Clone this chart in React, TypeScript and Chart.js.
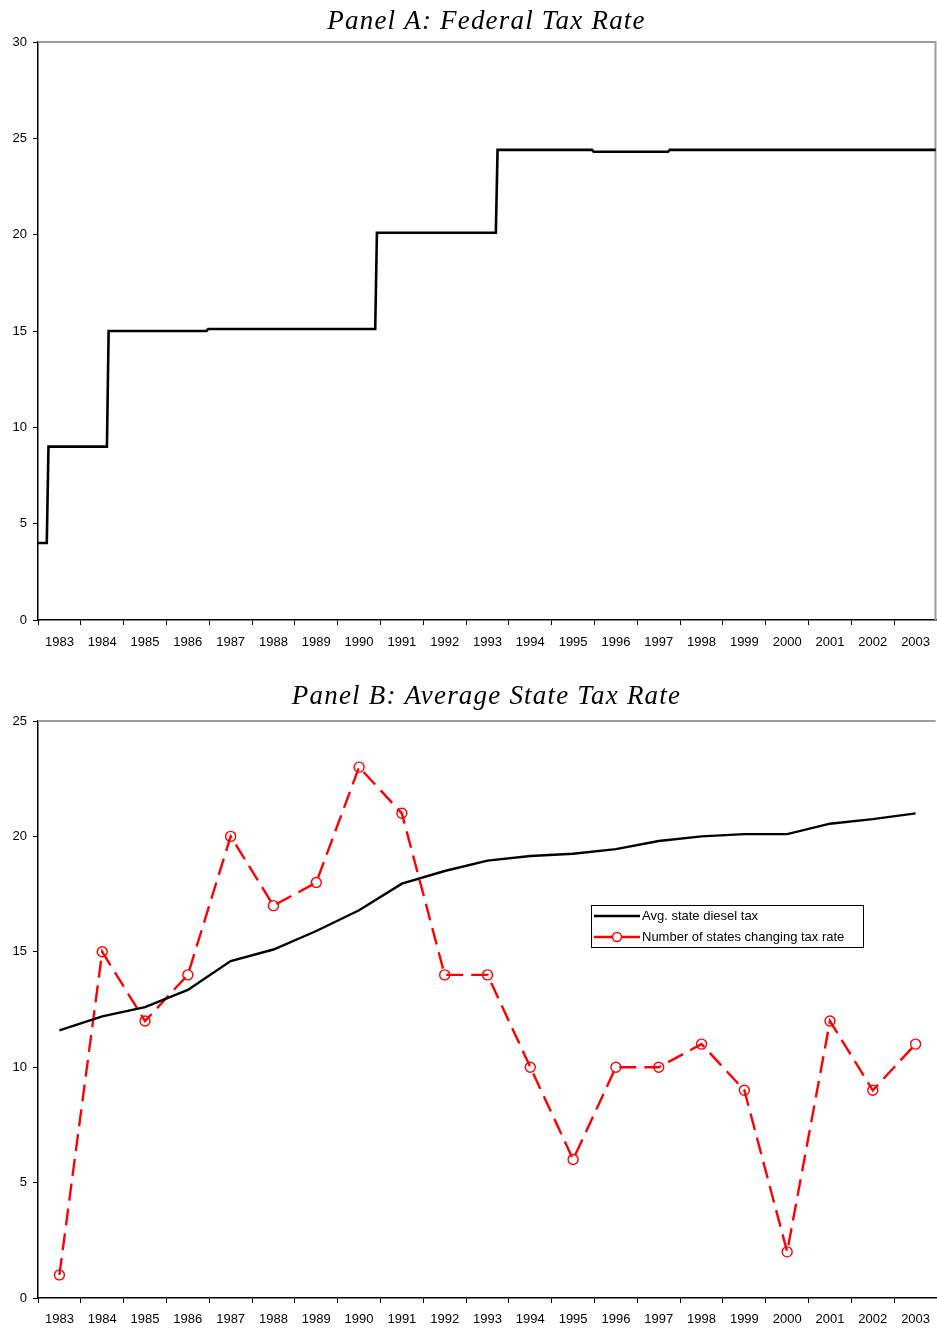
import React, { useEffect, useRef } from 'react';
import { Chart, registerables } from 'chart.js';

Chart.register(...registerables);

// ---- Data ----
const years = ['1983', '1984', '1985', '1986', '1987', '1988', '1989', '1990', '1991', '1992', '1993', '1994', '1995', '1996', '1997', '1998', '1999', '2000', '2001', '2002', '2003'];

// Federal diesel tax: dates (fractional year) at which the rate changed, and the rate in force from that date
const fedChangeTimes = [1983.0, 1983.245, 1984.65, 1986.975, 1990.917, 1993.735, 1995.98, 1997.757];
const fedRates = [4, 9, 15, 15.1, 20.1, 24.4, 24.3, 24.4];
const fedEndTime = 2003.97;

// Panel B series
const avgStateDieselTax = [11.6, 12.2, 12.6, 13.35, 14.6, 15.1, 15.9, 16.8, 17.95, 18.5, 18.95, 19.15, 19.25, 19.45, 19.8, 20.0, 20.1, 20.1, 20.55, 20.75, 21.0];
const statesChanging = [1, 15, 12, 14, 20, 17, 18, 23, 21, 14, 14, 10, 6, 10, 10, 11, 9, 2, 12, 9, 11];

const yTicksA = { min: 0, max: 30, step: 5 };
const yTicksB = { min: 0, max: 25, step: 5 };

const legendLabels = ['Avg. state diesel tax', 'Number of states changing tax rate'];
const titleA = 'Panel A: Federal Tax Rate';
const titleB = 'Panel B: Average State Tax Rate';

// build step points (monthly data: the change happens within about half a month)
function buildFedPoints() {
  const pts: { x: number; y: number }[] = [];
  for (let i = 0; i < fedChangeTimes.length; i++) {
    if (i > 0) pts.push({ x: fedChangeTimes[i] - 0.04, y: fedRates[i - 1] });
    pts.push({ x: fedChangeTimes[i], y: fedRates[i] });
  }
  pts.push({ x: fedEndTime, y: fedRates[fedRates.length - 1] });
  return pts;
}

const SANS = '"Liberation Sans", Arial, sans-serif';
const SERIF = '"Liberation Serif", "Times New Roman", serif';

function titlePlugin(text: string, baseline: number) {
  return {
    id: 'panelTitle',
    afterDraw(chart: any) {
      const { ctx, chartArea } = chart;
      ctx.save();
      ctx.font = `italic 27px ${SERIF}`;
      try { (ctx as any).letterSpacing = '1.2px'; } catch (e) {}
      ctx.fillStyle = '#000';
      ctx.textAlign = 'center';
      ctx.textBaseline = 'alphabetic';
      ctx.fillText(text, (chartArea.left + chartArea.right) / 2 - 1, baseline);
      ctx.restore();
    },
  };
}

function borderPlugin(drawRight: boolean) {
  return {
    id: 'plotBorder',
    beforeDatasetsDraw(chart: any) {
      const { ctx, chartArea } = chart;
      ctx.save();
      ctx.strokeStyle = '#9c9c9c';
      ctx.lineWidth = 2;
      ctx.beginPath();
      ctx.moveTo(chartArea.left, chartArea.top);
      ctx.lineTo(chartArea.right - 1.5, chartArea.top);
      if (drawRight) ctx.lineTo(chartArea.right - 1.5, chartArea.bottom);
      ctx.stroke();
      ctx.restore();
    },
  };
}

const legendPlugin = {
  id: 'boxLegend',
  afterDraw(chart: any) {
    const { ctx, chartArea } = chart;
    const x0 = chartArea.left + 553;
    const y0 = chartArea.top + 184;
    const w = 272;
    const h = 42;
    ctx.save();
    ctx.fillStyle = '#fff';
    ctx.fillRect(x0, y0, w, h);
    ctx.strokeStyle = '#000';
    ctx.lineWidth = 1;
    ctx.strokeRect(x0 + 0.5, y0 + 0.5, w, h);
    const rows = [y0 + 11, y0 + 32];
    ctx.strokeStyle = '#000';
    ctx.lineWidth = 2.5;
    ctx.beginPath();
    ctx.moveTo(x0 + 3, rows[0]);
    ctx.lineTo(x0 + 49, rows[0]);
    ctx.stroke();
    ctx.strokeStyle = '#ff0000';
    ctx.beginPath();
    ctx.moveTo(x0 + 3, rows[1]);
    ctx.lineTo(x0 + 49, rows[1]);
    ctx.stroke();
    ctx.fillStyle = '#fff';
    ctx.lineWidth = 1.5;
    ctx.beginPath();
    ctx.arc(x0 + 26, rows[1], 4.5, 0, Math.PI * 2);
    ctx.fill();
    ctx.stroke();
    ctx.fillStyle = '#000';
    ctx.font = `13px ${SANS}`;
    ctx.textAlign = 'left';
    ctx.textBaseline = 'middle';
    ctx.fillText(legendLabels[0], x0 + 51, rows[0]);
    ctx.fillText(legendLabels[1], x0 + 51, rows[1]);
    ctx.restore();
  },
};

function xCategoryAxis(height: number, pad: number) {
  return {
    type: 'category' as const,
    labels: years,
    offset: true,
    position: 'bottom' as const,
    grid: { offset: true, drawOnChartArea: false, drawTicks: true, tickLength: 5, color: '#000', lineWidth: 1 },
    border: { color: '#000', width: 1.5 },
    ticks: { color: '#000', font: { family: SANS, size: 13 }, padding: pad, maxRotation: 0, autoSkip: false },
    afterFit: (s: any) => {
      s.height = height;
      s.paddingLeft = 0;
      s.paddingRight = 0;
    },
  };
}

function yAxis(t: { min: number; max: number; step: number }) {
  return {
    min: t.min,
    max: t.max,
    position: 'left' as const,
    grid: { drawOnChartArea: false, drawTicks: true, tickLength: 5, color: '#000', lineWidth: 1 },
    border: { color: '#000', width: 1.5 },
    ticks: { stepSize: t.step, color: '#000', font: { family: SANS, size: 13 }, padding: 6 },
    afterFit: (s: any) => { s.width = 38; },
  };
}

export default function App() {
  const refA = useRef<HTMLCanvasElement>(null);
  const refB = useRef<HTMLCanvasElement>(null);

  useEffect(() => {
    const chartA = new Chart(refA.current as HTMLCanvasElement, {
      type: 'line',
      data: {
        labels: years,
        datasets: [
          {
            label: 'Federal tax rate',
            data: buildFedPoints(),
            xAxisID: 'xd',
            yAxisID: 'y',
            borderColor: '#000',
            borderWidth: 2.6,
            pointRadius: 0,
            tension: 0,
            fill: false,
          },
        ],
      },
      options: {
        animation: false,
        responsive: false,
        layout: { autoPadding: false, padding: { top: 42, right: 0, left: 0, bottom: 0 } },
        plugins: { legend: { display: false }, tooltip: { enabled: false }, title: { display: false } },
        scales: {
          x: xCategoryAxis(40, 10),
          xd: { type: 'linear', min: 1983, max: 2004, display: false },
          y: yAxis(yTicksA),
        } as any,
      } as any,
      plugins: [titlePlugin(titleA, 29), borderPlugin(true)],
    });

    const chartB = new Chart(refB.current as HTMLCanvasElement, {
      type: 'line',
      data: {
        labels: years,
        datasets: [
          {
            label: legendLabels[0],
            data: avgStateDieselTax,
            borderColor: '#000',
            borderWidth: 2.4,
            pointRadius: 0,
            tension: 0,
            fill: false,
          },
          {
            label: legendLabels[1],
            data: statesChanging,
            borderColor: '#ff0000',
            borderWidth: 2.4,
            borderDash: [17, 8],
            pointRadius: 5,
            pointBorderWidth: 1.4,
            pointBorderColor: '#ff0000',
            pointBackgroundColor: 'rgba(0,0,0,0)',
            pointStyle: 'circle',
            tension: 0,
            fill: false,
          },
        ],
      },
      options: {
        animation: false,
        responsive: false,
        layout: { autoPadding: false, padding: { top: 61, right: 0, left: 0, bottom: 0 } },
        plugins: { legend: { display: false }, tooltip: { enabled: false }, title: { display: false } },
        scales: {
          x: xCategoryAxis(31, 9),
          y: yAxis(yTicksB),
        } as any,
      } as any,
      plugins: [titlePlugin(titleB, 44), borderPlugin(false), legendPlugin],
    });

    return () => {
      chartA.destroy();
      chartB.destroy();
    };
  }, []);

  return (
    <div style={{ position: 'absolute', left: 0, top: 0, width: 937, height: 1329, background: '#fff' }}>
      <canvas ref={refA} width={937} height={660} style={{ position: 'absolute', left: 0, top: 0 }} />
      <canvas ref={refB} width={937} height={669} style={{ position: 'absolute', left: 0, top: 660 }} />
    </div>
  );
}
